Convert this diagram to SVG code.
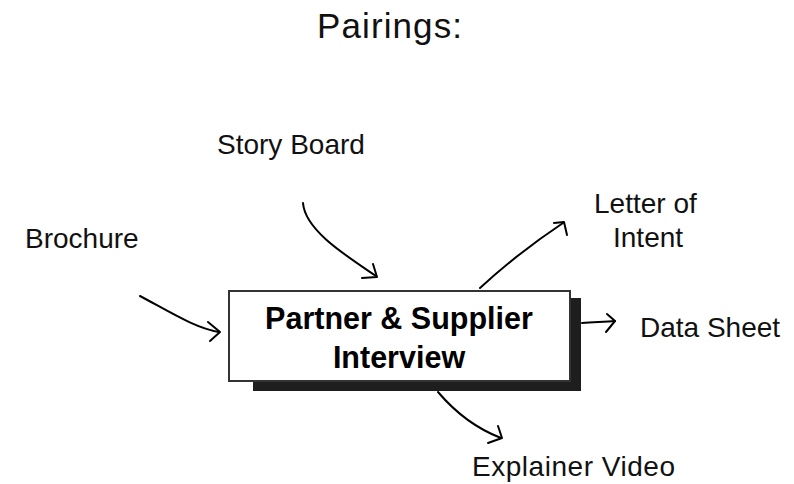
<svg xmlns="http://www.w3.org/2000/svg" width="794" height="484" viewBox="0 0 794 484">
  <style>
    .lbl { font-family: "Liberation Sans", Arial, sans-serif; font-size: 28px; fill: #111; }
    .title { font-family: "Liberation Sans", Arial, sans-serif; font-size: 35px; fill: #111; }
    .hub { font-family: "Liberation Sans", Arial, sans-serif; font-size: 30.5px; font-weight: 700; fill: #000; }
    .conn { fill: none; stroke: #000; stroke-width: 2; stroke-linecap: round; }
    .head { fill: none; stroke: #000; stroke-width: 2; stroke-linecap: round; stroke-linejoin: round; }
  </style>
  <rect width="794" height="484" fill="#fff"/>

  <text class="title" x="317" y="38" textLength="145">Pairings:</text>

  <!-- central node with offset drop shadow -->
  <g id="partner-supplier-interview">
    <rect x="253" y="298" width="328" height="93" fill="#1e1e1e"/>
    <rect x="229" y="291" width="341" height="90" fill="#fff" stroke="#333" stroke-width="2"/>
    <text class="hub" x="399" y="329" text-anchor="middle">Partner &amp; Supplier</text>
    <text class="hub" x="399" y="368" text-anchor="middle">Interview</text>
  </g>

  <g id="story-board"><text class="lbl" x="217" y="154">Story Board</text></g>
  <g id="brochure"><text class="lbl" x="25" y="248">Brochure</text></g>
  <g id="letter-of-intent">
    <text class="lbl" x="594" y="213">Letter of</text>
    <text class="lbl" x="613" y="247">Intent</text>
  </g>
  <g id="data-sheet"><text class="lbl" x="640" y="337">Data Sheet</text></g>
  <g id="explainer-video"><text class="lbl" x="472" y="476" textLength="203">Explainer Video</text></g>

  <g id="connectors">
    <!-- Story Board -> hub -->
    <path class="conn" d="M303,203 C305,230 345,255 376,276"/>
    <polyline class="head" points="373,264 377,277 362,278"/>
    <!-- Brochure -> hub -->
    <path class="conn" d="M140,296 C170,312 195,328 219,332"/>
    <polyline class="head" points="208,322 220,332 210,341"/>
    <!-- hub -> Letter of Intent -->
    <path class="conn" d="M480,288 C505,265 530,245 563,223"/>
    <polyline class="head" points="554,223 564,222 567,235"/>
    <!-- hub -> Data Sheet -->
    <path class="conn" d="M582,323 C595,322 605,322 615,321"/>
    <polyline class="head" points="607,314 615,321 606,332"/>
    <!-- hub -> Explainer Video -->
    <path class="conn" d="M438,392 C455,412 475,428 501,438"/>
    <polyline class="head" points="498,426 502,438 488,443"/>
  </g>
</svg>
